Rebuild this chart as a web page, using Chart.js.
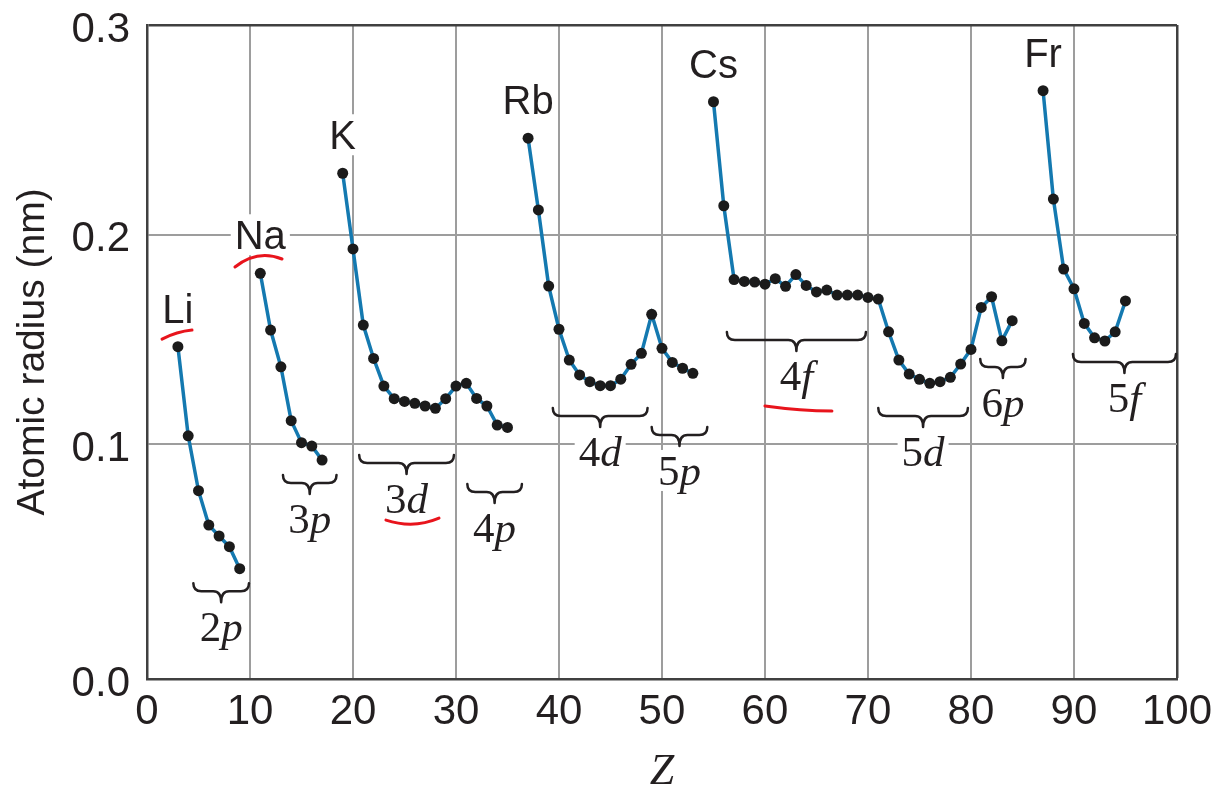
<!DOCTYPE html>
<html>
<head>
<meta charset="utf-8">
<script src="https://cdn.jsdelivr.net/npm/chart.js@4.4.0/dist/chart.umd.min.js"></script>
<style>
  html, body { margin: 0; padding: 0; background: #fff; }
  #wrap { position: relative; width: 1220px; height: 793px; }
</style>
</head>
<body>
<div id="wrap"><canvas id="chart"></canvas></div>
<script>
// atomic number Z and radius (nm), one pair of arrays per period
const period2Z = [3, 4, 5, 6, 7, 8, 9];
const period2R = [0.1466, 0.1041, 0.0779, 0.0615, 0.0563, 0.0512, 0.0407];
const period3Z = [11, 12, 13, 14, 15, 16, 17];
const period3R = [0.1816, 0.1545, 0.1370, 0.1113, 0.1008, 0.0992, 0.0925];
const period4Z = [19, 20, 21, 22, 23, 24, 25, 26, 27, 28, 29, 30, 31, 32, 33, 34, 35];
const period4R = [0.2293, 0.1932, 0.1569, 0.1410, 0.1278, 0.1218, 0.1205, 0.1196, 0.1183,
  0.1172, 0.1218, 0.1278, 0.1291, 0.1219, 0.1183, 0.1092, 0.1081];
const period5Z = [37, 38, 39, 40, 41, 42, 43, 44, 45, 46, 47, 48, 49, 50, 51, 52, 53];
const period5R = [0.2460, 0.2118, 0.1755, 0.1549, 0.1402, 0.1331, 0.1299, 0.1280, 0.1280,
  0.1311, 0.1382, 0.1434, 0.1620, 0.1458, 0.1391, 0.1363, 0.1339];
const period6Z = [55, 56, 57, 58, 59, 60, 61, 62, 63, 64, 65, 66, 67, 68, 69, 70, 71, 72,
  73, 74, 75, 76, 77, 78, 79, 80, 81, 82, 83, 84];
const period6R = [0.2634, 0.2138, 0.1786, 0.1777, 0.1774, 0.1764, 0.1790, 0.1754, 0.1810,
  0.1758, 0.1727, 0.1736, 0.1712, 0.1712, 0.1712, 0.1701, 0.1693, 0.1537, 0.1402, 0.1335,
  0.1310, 0.1291, 0.1299, 0.1320, 0.1383, 0.1453, 0.1653, 0.1704, 0.1494, 0.1590];
const period7Z = [87, 88, 89, 90, 91, 92, 93, 94, 95];
const period7R = [0.2687, 0.2170, 0.1836, 0.1742, 0.1577, 0.1508, 0.1493, 0.1537, 0.1684];

const elementLabels = ["Li", "Na", "K", "Rb", "Cs", "Fr"];

// subshell braces: label, Z span and the radius level of the brace ends
const braceLabels = ["2p", "3p", "3d", "4p", "4d", "5p", "4f", "5d", "6p", "5f"];
const braceFrom = [4.5, 13.2, 20.6, 31.1, 39.4, 49.0, 56.3, 71.0, 80.9, 89.9];
const braceTo = [9.9, 18.4, 29.8, 36.4, 48.6, 54.4, 69.8, 79.7, 85.3, 99.9];
const braceLevel = [0.0338, 0.0854, 0.0949, 0.0811, 0.1173, 0.1083, 0.1536, 0.1173, 0.1407, 0.1431];

// red hand-drawn underlines: [z0, r0, zCtrl, rCtrl, z1, r1]
const redMarks = [
  [1.46, 0.1502, 2.91, 0.1538, 4.37, 0.1545],
  [8.54, 0.1846, 10.73, 0.1931, 13.11, 0.1884],
  [23.20, 0.0639, 25.87, 0.0596, 28.35, 0.0648],
  [60.00, 0.1183, 63.54, 0.1159, 66.50, 0.1159]
];

// the printed figure's lowest band is taller than the others
const yMin = -0.0119;
const yTickValues = [yMin, 0.1, 0.2, 0.3];
const yTickLabels = ["0.0", "0.1", "0.2", "0.3"];

const BLUE = "#1479b0";
const INK = "#231f20";
const SANS = '"Liberation Sans", Arial, sans-serif';
const SERIF = '"Liberation Serif", "Times New Roman", serif';

const periods = [
  [period2Z, period2R], [period3Z, period3R], [period4Z, period4R],
  [period5Z, period5R], [period6Z, period6R], [period7Z, period7R]
];

const datasets = periods.map(([zs, rs], i) => ({
  label: elementLabels[i],
  data: zs.map((z, k) => ({ x: z, y: rs[k] })),
  showLine: true,
  borderColor: BLUE,
  borderWidth: 3.5,
  pointRadius: 5.5,
  pointBackgroundColor: "#1b1b1b",
  pointBorderWidth: 0,
  tension: 0
}));

function boxedText(ctx, parts, cx, baseY, capH) {
  let total = 0;
  parts.forEach(p => { ctx.font = p.font; p.w = ctx.measureText(p.text).width; total += p.w; });
  const padX = 4, padY = 6;
  let left = cx - total / 2;
  ctx.fillStyle = "#fff";
  ctx.fillRect(left - padX, baseY - capH - padY, total + padX * 2, capH + padY * 2);
  ctx.fillStyle = INK;
  ctx.textAlign = "left";
  ctx.textBaseline = "alphabetic";
  parts.forEach(p => { ctx.font = p.font; ctx.fillText(p.text, left, baseY); left += p.w; });
}

const annotations = {
  id: "annotations",
  afterDatasetsDraw(chart) {
    const { ctx, scales: { x, y } } = chart;
    ctx.save();

    // element symbols above the first point of each period
    chart.data.datasets.forEach((ds, i) => {
      const p = ds.data[0];
      const px = x.getPixelForValue(p.x);
      const py = y.getPixelForValue(p.y);
      boxedText(ctx, [{ text: elementLabels[i], font: "40px " + SANS }], px, py - 24, 29);
    });

    // braces with orbital labels
    braceLabels.forEach((lab, i) => {
      const x1 = x.getPixelForValue(braceFrom[i]);
      const x2 = x.getPixelForValue(braceTo[i]);
      const y0 = y.getPixelForValue(braceLevel[i]);
      const xm = (x1 + x2) / 2;
      const yMid = y0 + 8, yTip = y0 + 19, r = 8;
      ctx.beginPath();
      ctx.moveTo(x1, y0);
      ctx.quadraticCurveTo(x1, yMid, x1 + r, yMid);
      ctx.lineTo(xm - r, yMid);
      ctx.quadraticCurveTo(xm, yMid, xm, yTip);
      ctx.quadraticCurveTo(xm, yMid, xm + r, yMid);
      ctx.lineTo(x2 - r, yMid);
      ctx.quadraticCurveTo(x2, yMid, x2, y0);
      ctx.strokeStyle = INK;
      ctx.lineWidth = 2.5;
      ctx.lineJoin = "round";
      ctx.lineCap = "round";
      ctx.stroke();
      boxedText(ctx, [
        { text: lab[0], font: "43px " + SERIF },
        { text: lab.slice(1), font: "italic 43px " + SERIF }
      ], xm, y0 + 58, 29);
    });

    // red pen underlines
    ctx.strokeStyle = "#e8141c";
    ctx.lineWidth = 3;
    ctx.lineCap = "round";
    redMarks.forEach(m => {
      ctx.beginPath();
      ctx.moveTo(x.getPixelForValue(m[0]), y.getPixelForValue(m[1]));
      ctx.quadraticCurveTo(x.getPixelForValue(m[2]), y.getPixelForValue(m[3]),
        x.getPixelForValue(m[4]), y.getPixelForValue(m[5]));
      ctx.stroke();
    });
    ctx.restore();
  }
};

new Chart(document.getElementById("chart"), {
  type: "scatter",
  data: { datasets },
  plugins: [annotations],
  options: {
    responsive: true,
    maintainAspectRatio: false,
    animation: false,
    layout: { padding: { left: 0, right: 43, top: 25, bottom: 0 } },
    plugins: { legend: { display: false }, tooltip: { enabled: false } },
    scales: {
      x: {
        type: "linear",
        min: 0,
        max: 100,
        afterFit: axis => { axis.height = 114; },
        ticks: { stepSize: 10, padding: 8, color: INK, font: { family: SANS, size: 42, lineHeight: 1.2 } },
        grid: {
          drawTicks: false,
          color: c => (c.tick && c.tick.value === 100 ? "#404040" : "#9d9d9d"),
          lineWidth: c => (c.tick && c.tick.value === 100 ? 2.5 : 2)
        },
        border: { color: "#404040", width: 2.5 },
        title: {
          display: true,
          text: "Z",
          color: INK,
          padding: 0,
          font: { family: SERIF, size: 44, style: "italic", lineHeight: 0.95 }
        }
      },
      y: {
        type: "linear",
        min: yMin,
        max: 0.3,
        afterFit: axis => {
          axis.width = 147;
          axis.paddingTop = 0;
          axis.paddingBottom = 0;
        },
        afterBuildTicks: axis => { axis.ticks = yTickValues.map(v => ({ value: v })); },
        ticks: {
          padding: 17,
          labelOffset: 5,
          color: INK,
          font: { family: SANS, size: 42, lineHeight: 1 },
          callback: (value, index) => yTickLabels[index]
        },
        grid: {
          drawTicks: false,
          color: c => (c.tick && c.tick.value === 0.3 ? "#404040" : "#9d9d9d"),
          lineWidth: c => (c.tick && c.tick.value === 0.3 ? 2.5 : 2)
        },
        border: { color: "#404040", width: 2.5 },
        title: {
          display: true,
          text: "Atomic radius (nm)",
          color: INK,
          padding: { top: 10, bottom: 0 },
          font: { family: SANS, size: 39, lineHeight: 1.2 }
        }
      }
    }
  }
});
</script>
</body>
</html>
